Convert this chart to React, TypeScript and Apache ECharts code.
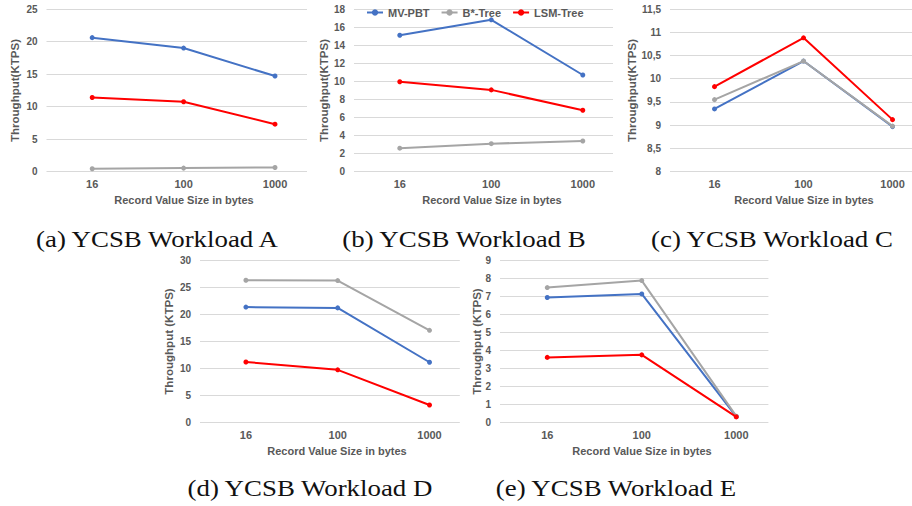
import React, { useEffect, useRef } from "react";
import * as echarts from "echarts";

// ---- data ----
const categories = ["16", "100", "1000"];
const seriesNames = ["MV-PBT", "B*-Tree", "LSM-Tree"];

// (a) Workload A
const aMvPbt = [20.6, 19.0, 14.7];
const aBTree = [0.45, 0.55, 0.65];
const aLsm = [11.4, 10.75, 7.3];
// (b) Workload B
const bMvPbt = [15.1, 16.8, 10.7];
const bBTree = [2.6, 3.1, 3.4];
const bLsm = [9.95, 9.05, 6.8];
// (c) Workload C
const cMvPbt = [9.35, 10.38, 8.97];
const cBTree = [9.55, 10.38, 8.98];
const cLsm = [9.83, 10.88, 9.12];
// (d) Workload D
const dMvPbt = [21.3, 21.15, 11.1];
const dBTree = [26.25, 26.2, 17.0];
const dLsm = [11.15, 9.7, 3.2];
// (e) Workload E
const eMvPbt = [6.92, 7.12, 0.32];
const eBTree = [7.47, 7.86, 0.34];
const eLsm = [3.6, 3.74, 0.3];

const captions = [
  "(a) YCSB Workload A",
  "(b) YCSB Workload B",
  "(c) YCSB Workload C",
  "(d) YCSB Workload D",
  "(e) YCSB Workload E",
];
const yAxisTitles = [
  "Throughput(KTPS)",
  "Throughput(KTPS)",
  "Throughput(KTPS)",
  "Throughput (KTPS)",
  "Throughput (KTPS)",
];
const xAxisTitle = "Record Value Size in bytes";

// y scales: [min, max, interval]
const yScales = [
  [0, 25, 5],
  [0, 18, 2],
  [8, 11.5, 0.5],
  [0, 30, 5],
  [0, 9, 1],
];

const panelData = [
  [aMvPbt, aBTree, aLsm],
  [bMvPbt, bBTree, bLsm],
  [cMvPbt, cBTree, cLsm],
  [dMvPbt, dBTree, dLsm],
  [eMvPbt, eBTree, eLsm],
];

// ---- layout / style ----
const colors = ["#4472C4", "#A5A5A5", "#FF0000"];
const textColor = "#595959";
const gridColor = "#D9D9D9";
const sans = "'Liberation Sans', Arial, sans-serif";
const serif = "'Liberation Serif', 'DejaVu Serif', serif";

const layout = [
  { left: 46.5, top: 9, width: 260.5, height: 162.7, xmin: -0.5, xmax: 2.35, ynx: 15.5, yny: 90.5, xnx: 184, xny: 200, capx: 157, capy: 239 },
  { left: 354, top: 9, width: 259, height: 162.7, xmin: -0.5, xmax: 2.33, ynx: 324, yny: 90.5, xnx: 492, xny: 200, capx: 464, capy: 239 },
  { left: 670, top: 9, width: 252.8, height: 162.7, xmin: -0.5, xmax: 2.34, ynx: 632.5, yny: 90.5, xnx: 804, xny: 200, capx: 772, capy: 239 },
  { left: 200, top: 260, width: 259.8, height: 162.3, xmin: -0.5, xmax: 2.33, ynx: 169.5, yny: 341.5, xnx: 337, xny: 451, capx: 310, capy: 488 },
  { left: 500, top: 260, width: 268.4, height: 162.3, xmin: -0.5, xmax: 2.34, ynx: 477, yny: 341.5, xnx: 642, xny: 451, capx: 616, capy: 488 },
];

export default function App() {
  const ref = useRef<HTMLDivElement>(null);
  useEffect(() => {
    if (!ref.current) return;
    const chart = echarts.init(ref.current, null, { renderer: "svg" });

    const grids: any[] = [];
    const xAxes: any[] = [];
    const yAxes: any[] = [];
    const series: any[] = [];
    const graphics: any[] = [];

    layout.forEach((l, i) => {
      const [ymin, ymax, yint] = yScales[i];
      grids.push({
        left: l.left,
        top: l.top,
        width: l.width,
        height: l.height,
        containLabel: false,
        outerBoundsMode: "none",
      });
      xAxes.push({
        gridIndex: i,
        type: "value",
        min: l.xmin,
        max: l.xmax,
        axisLine: { show: false },
        axisTick: { show: false },
        splitLine: { show: false },
        axisLabel: {
          customValues: [0, 1, 2],
          formatter: (v: number) => categories[Math.round(v)] ?? "",
          color: textColor,
          fontSize: 11,
          fontWeight: "bold",
          fontFamily: sans,
          margin: 7,
        },
      });
      yAxes.push({
        gridIndex: i,
        type: "value",
        min: ymin,
        max: ymax,
        interval: yint,
        axisLine: { show: false },
        axisTick: { show: false },
        splitLine: { show: true, lineStyle: { color: gridColor, width: 1 } },
        axisLabel: {
          color: textColor,
          fontSize: 10,
          fontWeight: "bold",
          fontFamily: sans,
          margin: 9,
          formatter: (v: number) => String(v).replace(".", ","),
        },
      });
      panelData[i].forEach((vals, s) => {
        series.push({
          name: seriesNames[s],
          type: "line",
          xAxisIndex: i,
          yAxisIndex: i,
          data: vals.map((v, k) => [k, v]),
          symbol: "circle",
          symbolSize: 5,
          showSymbol: true,
          lineStyle: { color: colors[s], width: 2 },
          itemStyle: { color: colors[s] },
          z: 2 + s,
        });
      });
      graphics.push({
        type: "text",
        x: l.ynx,
        y: l.yny,
        rotation: Math.PI / 2,
        scaleX: 1.05,
        style: {
          text: yAxisTitles[i],
          fill: textColor,
          font: `bold 11px ${sans}`,
          textAlign: "center",
          textVerticalAlign: "middle",
        },
      });
      graphics.push({
        type: "text",
        x: l.xnx,
        y: l.xny,
        style: {
          text: xAxisTitle,
          fill: textColor,
          font: `bold 11px ${sans}`,
          textAlign: "center",
          textVerticalAlign: "middle",
        },
      });
      graphics.push({
        type: "text",
        x: l.capx,
        y: l.capy,
        scaleX: 1.12,
        style: {
          text: captions[i],
          fill: "#111111",
          font: `24px ${serif}`,
          textAlign: "center",
          textVerticalAlign: "middle",
        },
      });
    });

    chart.setOption({
      animation: false,
      backgroundColor: "#ffffff",
      grid: grids,
      xAxis: xAxes,
      yAxis: yAxes,
      series,
      legend: {
        data: seriesNames,
        left: 366,
        top: 7,
        itemWidth: 16,
        itemHeight: 8,
        itemGap: 11,
        padding: 0,
        textStyle: {
          color: textColor,
          fontSize: 11,
          fontWeight: "bold",
          fontFamily: sans,
        },
      },
      graphic: graphics,
    });
    return () => chart.dispose();
  }, []);
  return (
    <div
      ref={ref}
      style={{ position: "fixed", left: 0, top: 0, width: 912, height: 506, background: "#fff" }}
    />
  );
}
